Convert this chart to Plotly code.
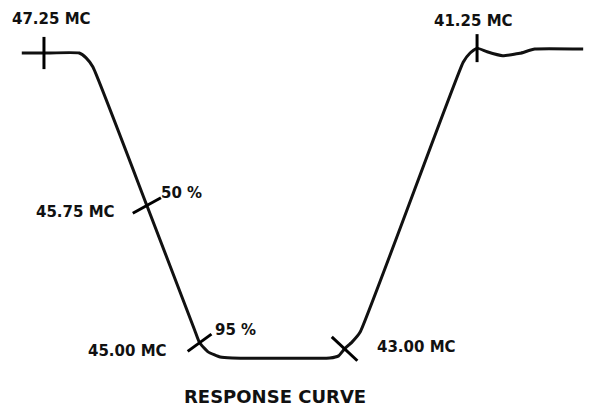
import math
import plotly.graph_objects as go

# Response curve traced in frequency (MC) against attenuation (%)
curve_freq = [47.58, 47.25, 46.73, 46.63, 46.53, 45.75, 45.07, 45.00, 44.88, 44.71, 44.54,
              43.20, 43.08, 43.00, 42.90, 42.79, 41.43, 41.34, 41.25, 41.12, 40.92, 40.70,
              40.51, 39.90]
curve_atten = [0, 0, 0, 1.6, 4.6, 50, 90.8, 95, 98.0, 99.7, 100,
               100, 99.3, 97, 94.8, 91.5, 3.0, 0, -1.6, -0.4, 0.9, 0.1,
               -1.3, -1.3]

# Marked reference frequencies on the curve
mark_freq = [47.25, 45.75, 45.00, 43.00, 41.25]
mark_atten = [0, 50, 95, 97, -1.6]
mark_labels = ["47.25 MC", "45.75 MC", "45.00 MC", "43.00 MC", "41.25 MC"]

# Percentage call-outs
pct_freq = [45.75, 45.00]
pct_atten = [50, 95]
pct_labels = ["50 %", "95 %"]

title_text = "RESPONSE CURVE"

ink = "#111111"
font_lbl = dict(family="DejaVu Sans", size=15, color=ink, weight="bold")

fig = go.Figure()

fig.add_trace(go.Scatter(
    x=curve_freq, y=curve_atten, mode="lines",
    line=dict(color=ink, width=3, shape="spline", smoothing=0.4),
    hoverinfo="skip", showlegend=False,
))

fig.add_trace(go.Scatter(
    x=mark_freq, y=mark_atten, mode="markers",
    marker=dict(
        symbol=["line-ns", "line-ew", "line-ew", "line-ew", "line-ns"],
        angle=[0, -29, -36, 43, 0],
        size=[23, 23, 21, 25, 20],
        color=ink,
        opacity=1,
        line=dict(color="#000000", width=3),
    ),
    hoverinfo="skip", showlegend=False,
))

# Frequency labels: (xanchor, xshift, yshift) per mark.
# Annotations on a log axis take log10 positions.
freq_pos = [
    ("center", 8, 34),
    ("right", -30, -6),
    ("right", -31, -8),
    ("left", 30, 2),
    ("center", -4, 27),
]
for f, a, text, (anchor, dx, dy) in zip(mark_freq, mark_atten, mark_labels, freq_pos):
    fig.add_annotation(x=math.log10(f), y=a, xref="x", yref="y", text=text, showarrow=False,
                       xanchor=anchor, yanchor="middle", xshift=dx, yshift=dy,
                       font=font_lbl)

pct_pos = [(12, 13), (13, 13)]
for f, a, text, (dx, dy) in zip(pct_freq, pct_atten, pct_labels, pct_pos):
    fig.add_annotation(x=math.log10(f), y=a, xref="x", yref="y", text=text, showarrow=False,
                       xanchor="left", yanchor="middle", xshift=dx, yshift=dy,
                       font=font_lbl)

fig.add_annotation(x=0.4677, y=0.0258, xref="paper", yref="paper", text=title_text,
                   showarrow=False, xanchor="center", yanchor="middle",
                   font=dict(family="DejaVu Sans", size=18, color=ink, weight="bold"))

fig.update_xaxes(type="log", range=[1.68039, 1.60018], visible=False)
fig.update_yaxes(range=[116.07, -17.38], visible=False)

fig.update_layout(
    width=589, height=407,
    margin=dict(l=0, r=0, t=0, b=0),
    paper_bgcolor="white", plot_bgcolor="white",
)

fig.write_html("out.html")
